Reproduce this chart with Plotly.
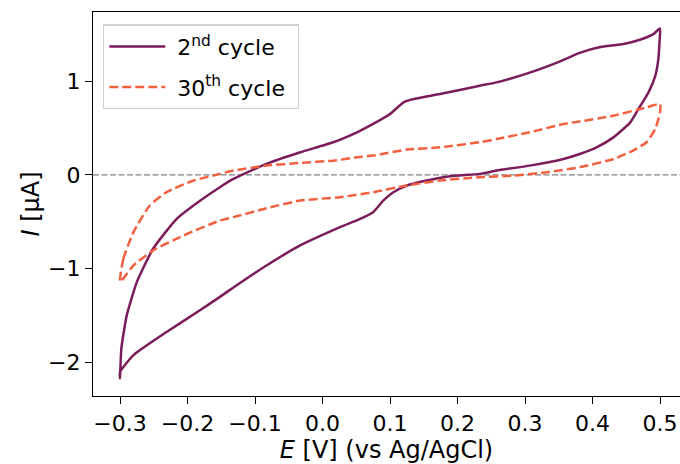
import plotly.graph_objects as go

# 2nd cycle: forward (anodic) then reverse (cathodic)
E2_fwd = [-0.300, -0.298, -0.290, -0.275, -0.251, -0.216, -0.181, -0.152, -0.132, -0.083,
          -0.033, 0.016, 0.051, 0.075, 0.100, 0.120, 0.130, 0.174, 0.233, 0.258, 0.307,
          0.352, 0.381, 0.410, 0.446, 0.470, 0.490, 0.500]
I2_fwd = [-2.17, -1.85, -1.497, -1.14, -0.787, -0.468, -0.273, -0.131, -0.043, 0.117,
          0.241, 0.348, 0.454, 0.543, 0.649, 0.773, 0.800, 0.862, 0.950, 0.986, 1.09,
          1.21, 1.30, 1.36, 1.394, 1.44, 1.50, 1.56]
E2_rev = [0.4995, 0.4975, 0.493, 0.483, 0.468, 0.456, 0.431, 0.406, 0.381, 0.357, 0.307,
          0.258, 0.233, 0.189, 0.154, 0.125, 0.105, 0.090, 0.075, 0.056, 0.026, -0.033,
          -0.083, -0.132, -0.152, -0.181, -0.231, -0.280, -0.300, -0.300]
I2_rev = [1.447, 1.234, 1.056, 0.88, 0.702, 0.56, 0.40, 0.294, 0.223, 0.17, 0.099,
          0.046, 0.011, -0.014, -0.06, -0.113, -0.184, -0.273, -0.397, -0.468, -0.557, -0.752,
          -0.965, -1.20, -1.30, -1.44, -1.674, -1.92, -2.10, -2.17]

# 30th cycle
E30_fwd = [-0.300, -0.295, -0.280, -0.256, -0.231, -0.191, -0.152, -0.132, -0.083, -0.033,
           0.016, 0.051, 0.075, 0.125, 0.174, 0.233, 0.258, 0.307, 0.357, 0.381, 0.431,
           0.480, 0.500]
I30_fwd = [-1.14, -0.894, -0.61, -0.326, -0.184, -0.06, 0.011, 0.046, 0.099, 0.128,
           0.152, 0.188, 0.206, 0.27, 0.294, 0.348, 0.383, 0.454, 0.543, 0.57, 0.631,
           0.72, 0.755]
E30_rev = [0.500, 0.493, 0.480, 0.460, 0.431, 0.381, 0.332, 0.283, 0.233, 0.174, 0.125,
           0.075, 0.026, -0.033, -0.083, -0.132, -0.152, -0.206, -0.251, -0.280, -0.300]
I30_rev = [0.667, 0.489, 0.348, 0.259, 0.17, 0.082, 0.028, -0.007, -0.025, -0.06, -0.113,
           -0.184, -0.237, -0.273, -0.355, -0.45, -0.486, -0.646, -0.805, -0.965, -1.14]

x_ticks = [-0.3, -0.2, -0.1, 0.0, 0.1, 0.2, 0.3, 0.4, 0.5]
x_tick_labels = ["\u22120.3", "\u22120.2", "\u22120.1", "0.0", "0.1", "0.2", "0.3", "0.4", "0.5"]
y_ticks = [-2, -1, 0, 1]
y_tick_labels = ["\u22122", "\u22121", "0", "1"]

C2 = "#7b1c5b"
C30 = "#f2603f"
FONT = "DejaVu Sans"

fig = go.Figure()
fig.add_trace(go.Scatter(x=E2_fwd + E2_rev, y=I2_fwd + I2_rev, mode="lines",
                         line=dict(color=C2, width=2.5, shape="spline", smoothing=0.5),
                         legendgroup="a",
                         name="\u00a02<sup>nd</sup> cycle"))
fig.add_trace(go.Scatter(x=E30_fwd + E30_rev, y=I30_fwd + I30_rev, mode="lines",
                         line=dict(color=C30, width=2.5, dash="9px,4px", shape="spline",
                                   smoothing=0.5),
                         legendgroup="b",
                         name="\u00a030<sup>th</sup> cycle\u00a0"))

fig.add_shape(type="line", xref="paper", yref="y", x0=0, x1=1, y0=0, y1=0,
              line=dict(color="#808080", width=1.3, dash="6px,2.5px"), layer="below")

fig.update_layout(
    width=680, height=464,
    margin=dict(l=93, r=0, t=12, b=68, autoexpand=False),
    paper_bgcolor="white", plot_bgcolor="white",
    font=dict(family=FONT, size=22, color="black"),
    showlegend=True,
    legend=dict(x=0.017, y=0.968, xanchor="left", yanchor="top",
                bgcolor="white", bordercolor="#d0d0d0", borderwidth=1.3,
                traceorder="grouped", tracegroupgap=9, itemwidth=56,
                font=dict(family=FONT, size=22)),
    xaxis=dict(range=[-0.34, 0.5296], tickvals=x_ticks, ticktext=x_tick_labels,
               showgrid=False, zeroline=False, showline=True, linecolor="black",
               linewidth=1.3, mirror=True, ticks="outside", ticklen=7, tickwidth=1.3,
               tickcolor="black", tickfont=dict(size=22), automargin=False,
               title=dict(text="<i>E</i> [V] (vs Ag/AgCl)", font=dict(size=24), standoff=7)),
    yaxis=dict(range=[-2.356, 1.736], tickvals=y_ticks, ticktext=y_tick_labels,
               showgrid=False, zeroline=False, showline=True, linecolor="black",
               linewidth=1.3, ticks="outside", ticklen=7, tickwidth=1.3,
               tickcolor="black", tickfont=dict(size=22), automargin=False,
               title=dict(text="<i>I</i> [\u00b5A]", font=dict(size=24), standoff=1)),
)

fig.write_html("out.html", config={"displayModeBar": False},
               post_script="document.body.style.margin='0';document.body.style.padding='0';")
